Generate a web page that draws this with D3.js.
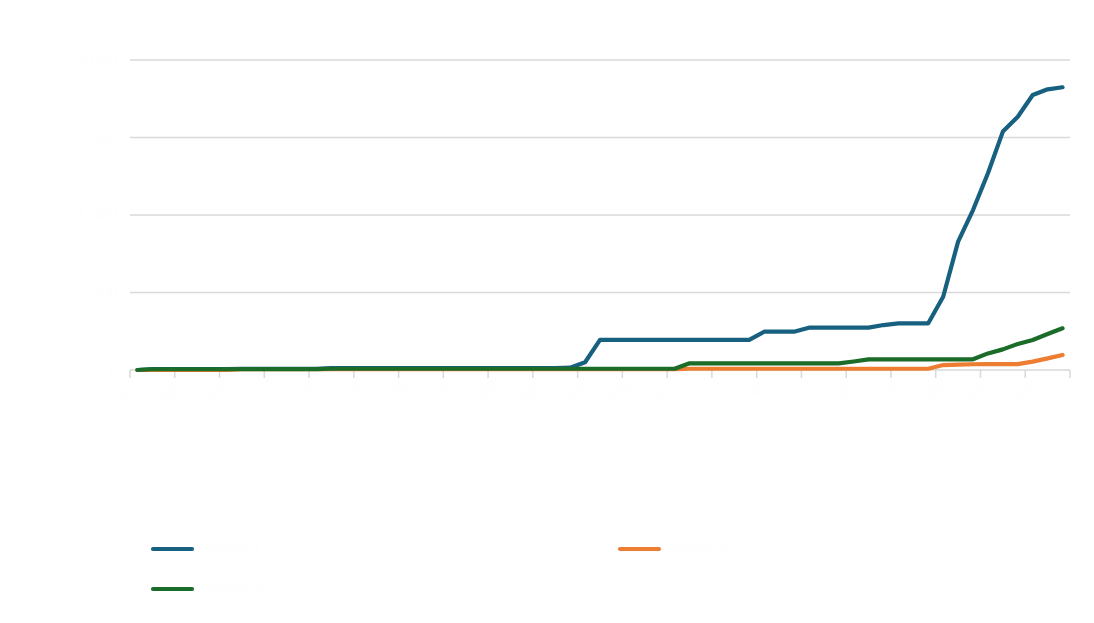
<!DOCTYPE html>
<html>
<head>
<meta charset="utf-8">
<script src="https://cdn.jsdelivr.net/npm/d3@7"></script>
<style>
  html, body { margin: 0; padding: 0; background: #ffffff; }
  svg { display: block; font-family: "Liberation Sans", Arial, sans-serif; }
</style>
</head>
<body>
<svg id="chart" width="1094" height="623"></svg>
<script>
// ---- data ----
const categories = [
  "22/1","23/1","24/1","25/1","26/1","27/1","28/1","29/1","30/1","31/1",
  "1/2","2/2","3/2","4/2","5/2","6/2","7/2","8/2","9/2","10/2",
  "11/2","12/2","13/2","14/2","15/2","16/2","17/2","18/2","19/2","20/2",
  "21/2","22/2","23/2","24/2","25/2","26/2","27/2","28/2","29/2","1/3",
  "2/3","3/3","4/3","5/3","6/3","7/3","8/3","9/3","10/3","11/3",
  "12/3","13/3","14/3","15/3","16/3","17/3","18/3","19/3","20/3","21/3",
  "22/3","23/3","24/3"
];
const seriesNames = ["Series 1", "Series 2", "Series 3"];
const blueValues = [
  0,6,6,6,6,6,6,8,8,8,
  8,8,8,12,12,12,12,12,12,12,
  12,12,12,12,12,12,12,12,12,15,
  50,194,194,194,194,194,194,194,194,194,
  194,194,247,247,247,273,273,273,273,273,
  290,301,301,301,473,828,1032,1269,1538,1634,
  1774,1811,1824
];
const orangeValues = [
  0,0,0,0,0,0,0,5,5,5,
  5,5,5,5,5,5,5,5,5,5,
  5,5,5,5,5,5,5,5,5,5,
  5,5,5,5,5,5,5,8,8,8,
  8,8,8,8,8,8,8,8,8,8,
  8,8,8,8,32,35,37,38,38,38,
  54,75,97
];
const greenValues = [
  0,5,5,5,5,5,5,6,6,6,
  6,6,6,8,8,8,8,8,8,8,
  8,8,8,8,8,8,8,8,8,8,
  8,8,8,8,8,8,8,43,43,43,
  43,43,43,43,43,43,43,43,55,69,
  69,69,69,69,69,69,69,107,133,168,
  194,232,269
];
const yTicks = [0, 500, 1000, 1500, 2000];
const colors = ["#17607f", "#ed7d31", "#1b6b29"];

// ---- layout ----
const svg = d3.select("#chart");
const plotLeft = 130, plotRight = 1070, plotTop = 60, plotBottom = 370;

const x = d3.scaleBand().domain(categories).range([plotLeft, plotRight]).padding(0);
const y = d3.scaleLinear().domain([0, 2000]).range([plotBottom, plotTop]);
const textFill = "#fefefe";

// gridlines
svg.append("g").selectAll("line").data(yTicks.slice(1)).join("line")
  .attr("x1", plotLeft).attr("x2", plotRight)
  .attr("y1", d => y(d)).attr("y2", d => y(d))
  .attr("stroke", "#d9d9d9").attr("stroke-width", 1.5);

// y labels (near-white like the reference)
svg.append("g").selectAll("text").data(yTicks).join("text")
  .attr("x", 118).attr("y", d => y(d) + 5)
  .attr("text-anchor", "end").attr("font-size", 16).attr("fill", textFill)
  .text(d => d3.format(",")(d));

// x axis baseline & ticks
svg.append("line").attr("x1", plotLeft).attr("x2", plotRight)
  .attr("y1", plotBottom).attr("y2", plotBottom)
  .attr("stroke", "#d9d9d9").attr("stroke-width", 1.5);
const tickIdx = d3.range(0, categories.length + 1, 3);
svg.append("g").selectAll("line").data(tickIdx).join("line")
  .attr("x1", i => plotLeft + i * x.step()).attr("x2", i => plotLeft + i * x.step())
  .attr("y1", plotBottom).attr("y2", plotBottom + 8)
  .attr("stroke", "#d9d9d9").attr("stroke-width", 1.5);

// x labels rotated
svg.append("g").selectAll("text").data(categories.filter((d, i) => i % 3 === 0)).join("text")
  .attr("transform", d => `translate(${x(d) + x.bandwidth() / 2 + 4},${plotBottom + 14}) rotate(-45)`)
  .attr("text-anchor", "end").attr("font-size", 14).attr("fill", textFill)
  .text(d => d);

// lines
const line = d3.line()
  .x((d, i) => x(categories[i]) + x.bandwidth() / 2)
  .y(d => y(d));
[blueValues, orangeValues, greenValues].forEach((vals, k) => {
  svg.append("path").datum(vals)
    .attr("d", line)
    .attr("fill", "none")
    .attr("stroke", colors[k])
    .attr("stroke-width", 4.2)
    .attr("stroke-linejoin", "round")
    .attr("stroke-linecap", "round");
});

// legend
const legendItems = [
  { name: seriesNames[0], color: colors[0], lx: 153, ly: 549 },
  { name: seriesNames[1], color: colors[1], lx: 620, ly: 549 },
  { name: seriesNames[2], color: colors[2], lx: 153, ly: 589 }
];
const lg = svg.append("g").selectAll("g").data(legendItems).join("g")
  .attr("transform", d => `translate(${d.lx},${d.ly})`);
lg.append("line").attr("x1", 0).attr("x2", 39).attr("y1", 0).attr("y2", 0)
  .attr("stroke", d => d.color).attr("stroke-width", 4.2).attr("stroke-linecap", "round");
lg.append("text").attr("x", 50).attr("y", 6).attr("font-size", 16)
  .attr("fill", textFill).text(d => d.name);
</script>
</body>
</html>
